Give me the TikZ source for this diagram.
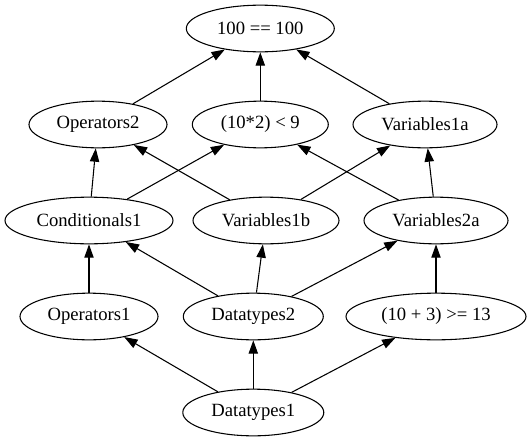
\documentclass[tikz,border=0pt]{standalone}
\usepackage{fontspec}
\setmainfont{Liberation Serif}
\newfontfamily\gvfont{Liberation Serif}
\usetikzlibrary{arrows.meta,shapes.geometric}
\begin{document}
\begin{tikzpicture}[x=0.75pt,y=-0.75pt,
  gv/.style={draw,ellipse,line width=0.8pt,inner sep=0pt,minimum height=35pt,font=\gvfont\fontsize{14pt}{16pt}\selectfont},
  edge/.style={draw,line width=0.8pt,-{Triangle[length=10pt,width=7pt]}}]
\useasboundingbox (0,0) rectangle (532,443);
\node[gv,minimum width=111pt]   (top)  at (260.3,28.5)  {100 == 100};
\node[gv,minimum width=103.5pt] (op2)  at (98,124.5)  {Operators2};
\node[gv,minimum width=102pt]   (lt)   at (260.3,124.5) {(10*2) < 9};
\node[gv,minimum width=108pt]   (v1a)  at (425,124.5) {Variables1a};
\node[gv,minimum width=126pt]   (c1)   at (89,220.5)  {Conditionals1};
\node[gv,minimum width=109.5pt] (v1b)  at (266,220.5) {Variables1b};
\node[gv,minimum width=108pt]   (v2a)  at (436,220.5) {Variables2a};
\node[gv,minimum width=103.5pt] (op1)  at (89,316.5)  {Operators1};
\node[gv,minimum width=105pt]   (d2)   at (253.3,316.5) {Datatypes2};
\node[gv,minimum width=135pt]   (ge)   at (436,316.5) {(10 + 3) >= 13};
\node[gv,minimum width=105.75pt](d1)   at (253.3,412.5) {Datatypes1};
\path[edge] (d1) -- (op1);
\path[edge] (d1) -- (d2);
\path[edge] (d1) -- (ge);
\path[edge] (op1) -- (c1);
\path[edge] (d2) -- (c1);
\path[edge] (d2) -- (v1b);
\path[edge] (d2) -- (v2a);
\path[edge] (ge) -- (v2a);
\path[edge] (c1) -- (op2);
\path[edge] (c1) -- (lt);
\path[edge] (v1b) -- (op2);
\path[edge] (v1b) -- (v1a);
\path[edge] (v2a) -- (lt);
\path[edge] (v2a) -- (v1a);
\path[edge] (op2) -- (top);
\path[edge] (lt) -- (top);
\path[edge] (v1a) -- (top);
\end{tikzpicture}
\end{document}
